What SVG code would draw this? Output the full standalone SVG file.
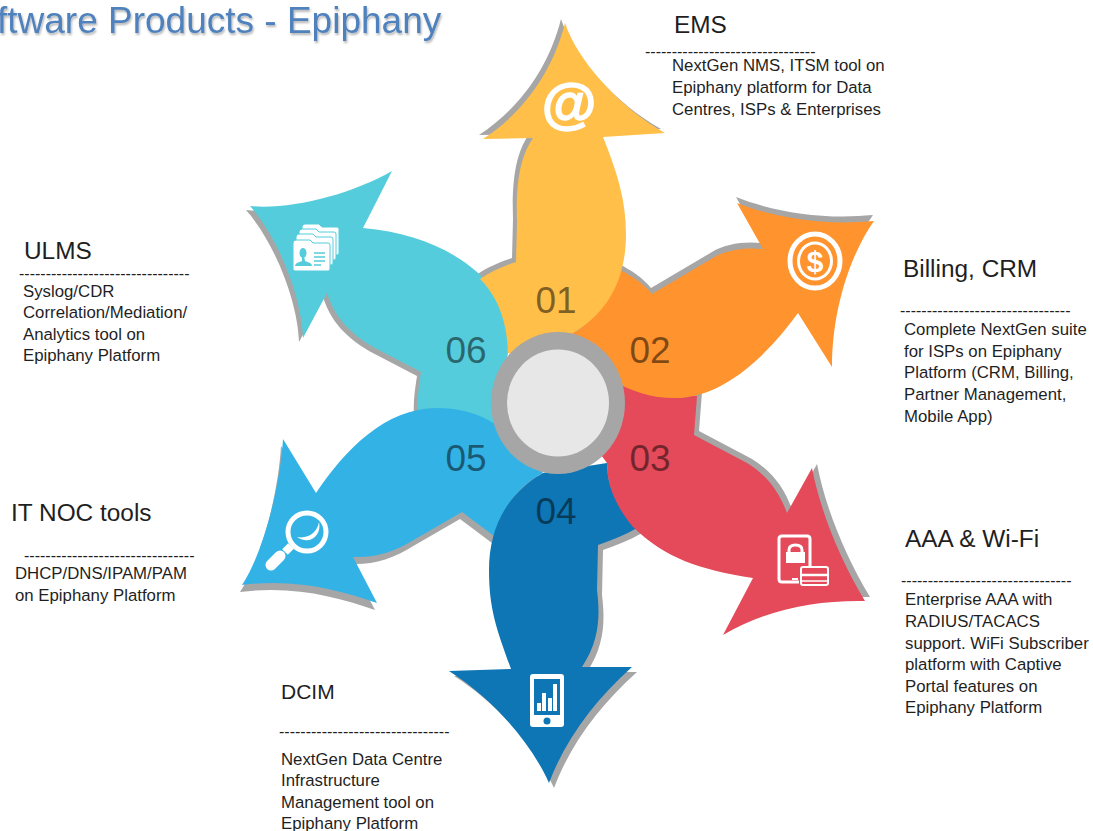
<svg xmlns="http://www.w3.org/2000/svg" xmlns:xlink="http://www.w3.org/1999/xlink" width="1093" height="831" viewBox="0 0 1093 831">
<style>
text{font-family:"Liberation Sans",Arial,sans-serif;fill:#1f1f1f}
.h{font-size:24.4px}
.b{font-size:16.8px}
.d{font-size:16px}
.n{font-size:37px;fill:#000;fill-opacity:.5;text-anchor:middle}
.w{fill:#fff}
.wl{fill:none;stroke:#fff}
.s{fill:#A6A6A6}
.card{fill:#fff;stroke:#55CCDB;stroke-width:1}
.title{font-size:37px;fill:#4F81BD;filter:url(#ts)}
</style>
<defs>
<filter id="ts" x="-5%" y="-20%" width="110%" height="150%"><feDropShadow dx="1" dy="2" stdDeviation="1.2" flood-color="#000" flood-opacity=".3"/></filter>
<path id="p1" d="M565 23C577 60 620 108 665 133L603 137C617 172 626 200 626 234C626 284 604 315 573 333L560 360L508 353C507 318 496 295 480 279C490 272 503 266 516 262L517 223C516 190 518 160 533 138L483 139C520 115 552 75 565 23Z"/>
<path id="p2" d="M737 203C775 218 825 226 874 221C850 255 832 310 832 367L798 313C770 352 725 398 675 398C650 398 635 392 610 380L560 350L573 333C592 323 610 300 620 270C632 276 644 284 652 294L713 258C725 250 745 247 763 249Z"/>
<path id="p3" d="M697 396L694 435L747 463C768 476 779 492 787 513L812 468C820 510 840 560 865 601C815 600 765 610 723 635L753 578C700 570 665 558 633 527C615 505 607 485 607 463L560 400L623 383C640 392 670 396 697 396Z"/>
<path id="p4" d="M549 783C532 745 495 700 449 671L511 669C497 630 489 610 489 570C489 530 505 495 543 473L607 463C607 490 620 510 637 528C625 535 612 540 598 545L597 590C600 615 600 640 582 667L632 667C595 700 565 740 549 783Z"/>
<path id="p5" d="M283 439L316 493C345 450 385 408 437 408C460 408 480 414 495 424L543 473C520 485 504 505 494 536L462 512L417 538C395 552 375 558 353 557L377 603C340 590 295 578 242 585C262 555 280 490 283 439Z"/>
<path id="p6" d="M250 206C290 210 350 195 392 171L363 228C410 232 450 248 477 272C498 292 508 320 508 353L495 430L418 412C417 398 419 385 421 372L373 347C350 333 335 318 327 293L303 338C302 300 280 240 250 206Z"/>
<path id="card" d="M0 3q0-3 3-3h14l3 3h15q2 0 2 2v24q0 2-2 2H2q-2 0-2-2z"/>
</defs>
<g id="shadows" class="s">
<use xlink:href="#p1" href="#p1" x="-4" y="-4"/>
<use xlink:href="#p2" href="#p2" x="-1" y="-6"/>
<use xlink:href="#p3" href="#p3" x="5" y="-4"/>
<use xlink:href="#p4" href="#p4" x="5" y="5"/>
<use xlink:href="#p5" href="#p5" x="-2" y="7"/>
<use xlink:href="#p6" href="#p6" x="-4" y="4"/>
</g>
<g id="connectors"/>
<text class="title" x="-3" y="33">ftware Products - Epiphany</text>
<g id="node-06">
<use href="#p6" xlink:href="#p6" fill="#55CCDB"/>
<text class="n" x="466" y="363">06</text>
<use href="#card" xlink:href="#card" class="card" x="302" y="224"/>
<use href="#card" xlink:href="#card" class="card" x="299" y="229"/>
<use href="#card" xlink:href="#card" class="card" x="296" y="234"/>
<use href="#card" xlink:href="#card" class="card" x="293" y="240"/>
<ellipse cx="303" cy="253" rx="3.5" ry="5" fill="#55CCDB"/>
<path fill="#55CCDB" d="M302 256h2l1 5 5 2q2 1 2 3H295q0-2 2-3l5-2z"/>
<path d="M314 253h11M314 257h11M314 261h11M314 265h7" stroke="#55CCDB" stroke-width="1.5" fill="none"/>
</g>
<g id="node-05">
<use href="#p5" xlink:href="#p5" fill="#33B2E5"/>
<text class="n" x="466" y="471">05</text>
<circle class="wl" cx="307" cy="532" r="19" stroke-width="5"/>
<path class="wl" d="M291 546L285 552" stroke-width="8"/>
<path class="wl" d="M280 556L271 565" stroke-width="11" stroke-linecap="round"/>
<path class="w" d="M319 522C322 535 310 546 297 537C308 539 317 533 319 522z"/>
</g>
<g id="node-04">
<use href="#p4" xlink:href="#p4" fill="#0E76B4"/>
<text class="n" x="556" y="524">04</text>
<rect class="w" x="530" y="674" width="34" height="53" rx="3"/>
<rect x="534" y="679" width="26" height="36" fill="#0E76B4"/>
<path class="w" d="M537 703h4v8h-4zM542 693h4v18h-4zM548 698h4v13h-4zM553 684h4v27h-4z"/>
<circle cx="547" cy="721" r="3.5" fill="#0E76B4"/>
</g>
<g id="node-03">
<use href="#p3" xlink:href="#p3" fill="#E44A59"/>
<text class="n" x="650" y="471">03</text>
<path class="wl" d="M799 582H782q-3 0-3-3V539q0-3 3-3h25q3 0 3 3v27" stroke-width="3"/>
<path class="w" d="M786 552h19v11h-19z"/>
<path class="wl" d="M789 552v-2q0-5 6.500-5t6.500 5v2" stroke-width="3"/>
<path class="w" d="M792 578h6v2h-6z"/>
<rect x="801" y="567" width="27" height="18" rx="2" fill="#E44A59" stroke="#fff" stroke-width="2"/>
<path class="wl" d="M801 575h27" stroke-width="2.500"/>
<path class="wl" d="M801 581h27" stroke-width="1.500"/>
</g>
<g id="node-02">
<use href="#p2" xlink:href="#p2" fill="#FF932D"/>
<text class="n" x="650" y="363">02</text>
<ellipse class="wl" cx="815" cy="261" rx="25" ry="27" stroke-width="5"/>
<ellipse class="wl" cx="815" cy="261" rx="16.500" ry="18" stroke-width="3"/>
<text x="815" y="272" text-anchor="middle" style="font-size:30px;font-weight:bold;fill:#fff">$</text>
</g>
<g id="node-01">
<use href="#p1" xlink:href="#p1" fill="#FFBF49"/>
<text class="n" x="556" y="313">01</text>
<text x="569" y="122" text-anchor="middle" style="font-size:56px;font-weight:bold;fill:#fff;stroke:#fff;stroke-width:1.500">@</text>
</g>
<g id="hub">
<ellipse cx="558" cy="403" rx="67" ry="71" fill="#A6A6A6"/>
<ellipse cx="558" cy="403" rx="51" ry="53.500" fill="#E7E7E7"/>
</g>
<g id="label-ems">
<text class="h" x="674" y="33">EMS</text>
<text class="d" x="645" y="57">--------------------------------</text>
<text class="b" x="672" y="71">NextGen NMS, ITSM tool on</text>
<text class="b" x="672" y="93">Epiphany platform for Data</text>
<text class="b" x="672" y="115">Centres, ISPs &amp; Enterprises</text>
</g>
<g id="label-billing">
<text class="h" x="903" y="277">Billing, CRM</text>
<text class="d" x="900" y="316">--------------------------------</text>
<text class="b" x="904" y="335">Complete NextGen suite</text>
<text class="b" x="904" y="357">for ISPs on Epiphany</text>
<text class="b" x="904" y="378">Platform (CRM, Billing,</text>
<text class="b" x="904" y="400">Partner Management,</text>
<text class="b" x="904" y="422">Mobile App)</text>
</g>
<g id="label-aaa">
<text class="h" x="905" y="547">AAA &amp; Wi-Fi</text>
<text class="d" x="901" y="586">--------------------------------</text>
<text class="b" x="905" y="605">Enterprise AAA with</text>
<text class="b" x="905" y="627">RADIUS/TACACS</text>
<text class="b" x="905" y="649">support. WiFi Subscriber</text>
<text class="b" x="905" y="670">platform with Captive</text>
<text class="b" x="905" y="692">Portal features on</text>
<text class="b" x="905" y="713">Epiphany Platform</text>
</g>
<g id="label-dcim">
<text class="h" x="281" y="699" style="font-size:21px">DCIM</text>
<text class="d" x="279" y="737">--------------------------------</text>
<text class="b" x="281" y="765">NextGen Data Centre</text>
<text class="b" x="281" y="786">Infrastructure</text>
<text class="b" x="281" y="808">Management tool on</text>
<text class="b" x="281" y="829">Epiphany Platform</text>
</g>
<g id="label-noc">
<text class="h" x="11" y="521">IT NOC tools</text>
<text class="d" x="24" y="561">--------------------------------</text>
<text class="b" x="15" y="579">DHCP/DNS/IPAM/PAM</text>
<text class="b" x="15" y="601">on Epiphany Platform</text>
</g>
<g id="label-ulms">
<text class="h" x="24" y="259">ULMS</text>
<text class="d" x="19" y="279">--------------------------------</text>
<text class="b" x="23" y="297">Syslog/CDR</text>
<text class="b" x="23" y="318">Correlation/Mediation/</text>
<text class="b" x="23" y="340">Analytics tool on</text>
<text class="b" x="23" y="361">Epiphany Platform</text>
</g>
</svg>
